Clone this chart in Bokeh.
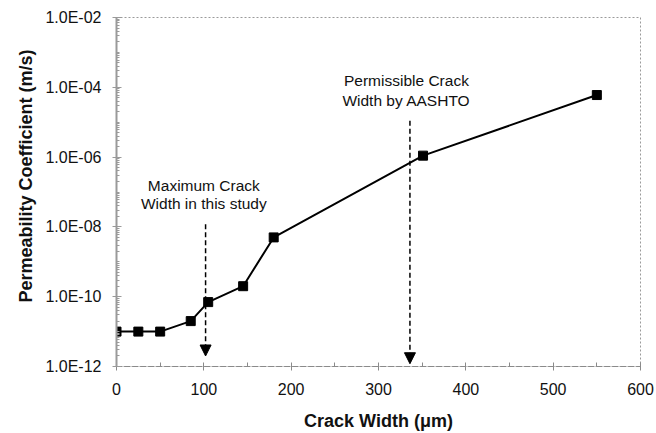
from bokeh.plotting import figure
from bokeh.models import (Range1d, FixedTicker, Arrow, NormalHead, ColumnDataSource, Title)
from bokeh.core.properties import value
from bokeh.embed import file_html
from bokeh.resources import INLINE

# ---- data ----
crack_width = [0, 25, 50, 85, 105, 145, 180, 351, 550]          # micrometres
permeability = [1.0e-11, 1.0e-11, 1.0e-11, 2.0e-11, 7.0e-11, 2.0e-10, 5.0e-9, 1.1e-6, 6.0e-5]  # m/s

x_ticks = [0, 100, 200, 300, 400, 500, 600]
x_minor = [50, 150, 250, 350, 450, 550]
y_ticks = [1e-12, 1e-10, 1e-8, 1e-6, 1e-4, 1e-2]
y_tick_labels = ["1.0E-12", "1.0E-10", "1.0E-08", "1.0E-06", "1.0E-04", "1.0E-02"]

# annotation arrows (dashed vertical markers)
arrow_x = [102, 336]
arrow_top = [1.2e-8, 1.1e-5]
arrow_tip = [2.0e-12, 1.2e-12]

note_x = [100, 100, 332, 332]
note_y = [1.55e-7, 4.6e-8, 1.6e-4, 4.3e-5]
note_text = ["Maximum Crack", "Width in this study", "Permissible Crack", "Width by AASHTO"]

FONT = "Liberation Sans"

p = figure(width=656, height=433, output_backend="svg", toolbar_location=None,
           x_range=Range1d(0, 600), y_range=Range1d(1e-12, 1e-2), y_axis_type="log",
           min_border_left=116, min_border_right=16, min_border_top=17, min_border_bottom=67)

p.xgrid.visible = False
p.ygrid.visible = False
p.background_fill_color = "white"
p.border_fill_color = "white"
p.outline_line_color = "#9a9a9a"
p.outline_line_dash = "2 2"
p.outline_line_width = 1

# x axis
xa = p.xaxis[0]
xa.ticker = FixedTicker(ticks=x_ticks, minor_ticks=x_minor)
xa.axis_line_color = "#8a8a8a"
xa.axis_line_dash = "6 2"
xa.axis_line_width = 1
xa.major_tick_in = 4
xa.major_tick_out = 4
xa.major_tick_line_color = "#8a8a8a"
xa.minor_tick_in = 4
xa.minor_tick_out = 0
xa.minor_tick_line_color = "#8a8a8a"
xa.major_label_text_font = FONT
xa.major_label_text_font_size = "16px"
xa.major_label_text_color = "#111111"
xa.major_label_standoff = 12
xa.axis_label = "Crack Width (\u03bcm)"
xa.axis_label_text_font = FONT
xa.axis_label_text_font_size = "18px"
xa.axis_label_text_font_style = "bold"
xa.axis_label_text_color = "#111111"
xa.axis_label_standoff = 13

# y axis
minor_y = []
for k in range(-12, -2):
    for m in range(1, 10):
        v = m * 10.0 ** k
        if m == 1 and k % 2 == 0:
            continue
        minor_y.append(v)

ya = p.yaxis[0]
ya.ticker = FixedTicker(ticks=y_ticks, minor_ticks=minor_y)
ya.major_label_overrides = {t: lab for t, lab in zip(y_ticks, y_tick_labels)}
ya.axis_line_color = "#9a9a9a"
ya.axis_line_width = 2
ya.major_tick_in = 5
ya.major_tick_out = 4
ya.major_tick_line_color = "#9a9a9a"
ya.minor_tick_in = 3
ya.minor_tick_out = 0
ya.minor_tick_line_color = "#9a9a9a"
ya.major_label_text_font = FONT
ya.major_label_text_font_size = "16px"
ya.major_label_text_color = "#111111"
ya.major_label_standoff = 11

p.add_layout(Title(text="Permeability Coefficient (m/s)", align="left", offset=64,
                   text_font=FONT, text_font_size="18px", text_font_style="bold",
                   text_color="#111111", standoff=14), "left")

# dashed arrows
asrc = ColumnDataSource(dict(x=arrow_x, y0=arrow_top, y1=arrow_tip))
p.add_layout(Arrow(x_start="x", y_start="y0", x_end="x", y_end="y1", source=asrc,
                   line_color="black", line_width=1.5, line_dash="5 3",
                   end=NormalHead(size=11, fill_color="black", line_color="black", line_width=1)))

# notes
p.text(x=note_x, y=note_y, text=note_text, text_font=value(FONT), text_font_size="15.5px",
       text_align="center", text_baseline="middle", text_color="#111111")

# data
p.line(crack_width, permeability, line_color="black", line_width=2)
p.scatter(crack_width, permeability, marker="square", size=9, fill_color="black", line_color="black")

open("out.html", "w").write(file_html(p, INLINE))
